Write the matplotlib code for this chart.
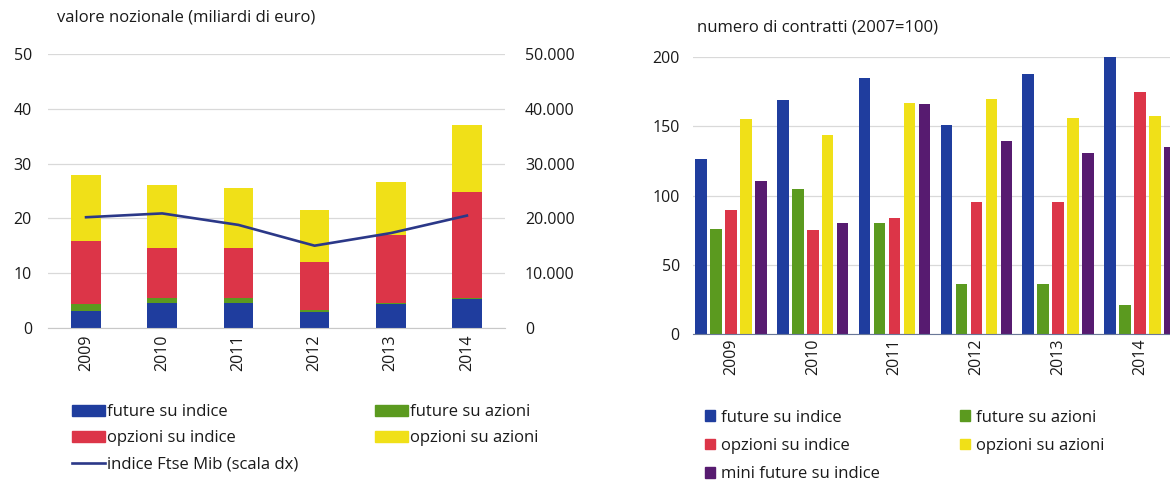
import matplotlib
matplotlib.use('Agg')
import matplotlib.pyplot as plt
import numpy as np
from matplotlib.patches import Patch
from matplotlib.lines import Line2D

plt.rcParams['font.family'] = ['Open Sans', 'DejaVu Sans']

# data
years = ['2009', '2010', '2011', '2012', '2013', '2014']

# left panel: notional value (billion euro), stacked
fut_indice = [3.0, 4.45, 4.6, 2.8, 4.3, 5.2]
fut_azioni = [1.3, 1.0, 0.8, 0.4, 0.15, 0.2]
opz_indice = [11.6, 9.2, 9.1, 8.8, 12.5, 19.5]
opz_azioni = [12.0, 11.5, 11.0, 9.6, 9.7, 12.1]
ftse_mib = [20200, 20900, 18800, 15000, 17300, 20500]

# right panel: number of contracts (2007=100)
n_fut_indice = [126.6, 169.2, 185.1, 150.9, 188.2, 200.0]
n_fut_azioni = [75.6, 104.9, 79.9, 36.3, 36.3, 20.9]
n_opz_indice = [89.5, 75.3, 83.5, 95.3, 95.3, 175.0]
n_opz_azioni = [155.2, 143.9, 166.8, 169.9, 156.0, 157.9]
n_mini_fut = [110.7, 79.9, 166.1, 139.4, 130.7, 135.3]

left_ticks = [0, 10, 20, 30, 40, 50]
right_ticks = [0, 10000, 20000, 30000, 40000, 50000]
right_labels = ['0', '10.000', '20.000', '30.000', '40.000', '50.000']
contr_ticks = [0, 50, 100, 150, 200]

BLUE = '#1f3d9e'
GREEN = '#5b9a1f'
RED = '#dc3548'
YELLOW = '#f0e018'
PURPLE = '#571b70'
LINE = '#2b3888'
GRID = '#d9d9d9'
TXT = '#1a1a1a'

FS = 12      # titles and legends
TFS = 11.5   # tick labels

fig = plt.figure(figsize=(11.7, 4.86), dpi=100)

# ---- left panel
ax = fig.add_axes([0.041, 0.3257, 0.3906, 0.5626])
x = np.arange(len(years))
w = 0.39
bottom = np.zeros(len(years))
for vals, col in [(fut_indice, BLUE), (fut_azioni, GREEN),
                  (opz_indice, RED), (opz_azioni, YELLOW)]:
    ax.bar(x, vals, w, bottom=bottom, color=col, zorder=2)
    bottom += np.array(vals)
ax.set_xlim(-0.5, 5.5)
ax.set_ylim(0, 50)
ax.set_yticks(left_ticks)
ax.set_xticks(x)
ax.set_xticklabels(years, rotation=90)
ax.yaxis.grid(True, color=GRID, lw=0.9, zorder=0)
for s in ['top', 'right', 'left']:
    ax.spines[s].set_visible(False)
ax.spines['bottom'].set_color('#c8c8c8')
ax.tick_params(axis='both', length=0, labelsize=TFS, colors=TXT)
ax.tick_params(axis='y', pad=11.5)
ax.tick_params(axis='x', pad=5)

ax2 = ax.twinx()
ax2.plot(x, ftse_mib, color=LINE, lw=1.9, zorder=3)
ax2.set_ylim(0, 50000)
ax2.set_yticks(right_ticks)
ax2.set_yticklabels(right_labels)
for s in ax2.spines.values():
    s.set_visible(False)
ax2.tick_params(axis='y', length=0, labelsize=TFS, colors=TXT, pad=14.4)

fig.text(57 / 1170, 1 - 17 / 486, 'valore nozionale (miliardi di euro)',
         fontsize=FS, va='center', ha='left', color=TXT)

leg_kw = dict(frameon=False, fontsize=FS, borderpad=0, borderaxespad=0,
              handletextpad=0.12, labelspacing=0.6, loc='upper left',
              labelcolor=TXT)
h1 = [Patch(color=BLUE), Patch(color=RED), Line2D([], [], color=LINE, lw=1.9)]
l1 = ['future su indice', 'opzioni su indice', 'indice Ftse Mib (scala dx)']
fig.legend(h1, l1, bbox_to_anchor=(72 / 1170, 1 - 404.5 / 486),
           handlelength=2.0, handleheight=0.6, **leg_kw)
h2 = [Patch(color=GREEN), Patch(color=YELLOW)]
l2 = ['future su azioni', 'opzioni su azioni']
fig.legend(h2, l2, bbox_to_anchor=(375 / 1170, 1 - 404.5 / 486),
           handlelength=2.0, handleheight=0.6, **leg_kw)

# ---- right panel
bx = fig.add_axes([0.5923, 0.3128, 0.4145, 0.5693])
step = 0.183
bw = 0.14
series = [(n_fut_indice, BLUE), (n_fut_azioni, GREEN), (n_opz_indice, RED),
          (n_opz_azioni, YELLOW), (n_mini_fut, PURPLE)]
for i, (vals, col) in enumerate(series):
    bx.bar(x + (i - 2) * step, vals, bw, color=col, zorder=2)
bx.set_xlim(-0.465, 5.465)
bx.set_ylim(0, 200)
bx.set_yticks(contr_ticks)
bx.set_xticks(x)
bx.set_xticklabels(years, rotation=90)
bx.yaxis.grid(True, color=GRID, lw=0.9, zorder=0)
for s in ['top', 'right', 'left']:
    bx.spines[s].set_visible(False)
bx.spines['bottom'].set_color('#6a7898')
bx.tick_params(axis='both', length=0, labelsize=TFS, colors=TXT)
bx.tick_params(axis='y', pad=9.5)
bx.tick_params(axis='x', pad=3)

fig.text(697 / 1170, 1 - 28 / 486, 'numero di contratti (2007=100)',
         fontsize=FS, va='center', ha='left', color=TXT)

leg_kw2 = dict(leg_kw, labelspacing=0.75, handletextpad=0.36)
h3 = [Patch(color=BLUE), Patch(color=RED), Patch(color=PURPLE)]
l3 = ['future su indice', 'opzioni su indice', 'mini future su indice']
fig.legend(h3, l3, bbox_to_anchor=(705 / 1170, 1 - 409.5 / 486),
           handlelength=0.6, handleheight=0.6, **leg_kw2)
h4 = [Patch(color=GREEN), Patch(color=YELLOW)]
l4 = ['future su azioni', 'opzioni su azioni']
fig.legend(h4, l4, bbox_to_anchor=(960 / 1170, 1 - 409.5 / 486),
           handlelength=0.6, handleheight=0.6, **leg_kw2)

fig.savefig('out.png', dpi=100)
